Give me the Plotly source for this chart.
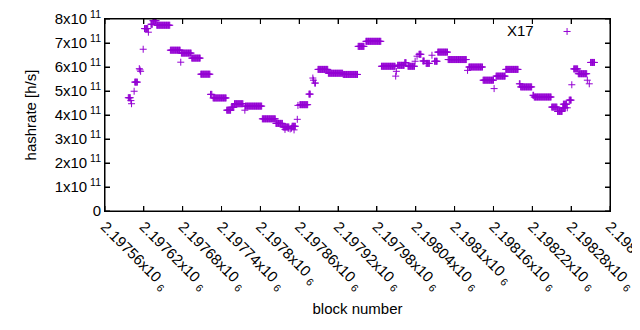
import plotly.graph_objects as go

# Runs of constant hashrate: first block, last block, hashrate [h/s]
run_start = [2197596, 2197600, 2197601, 2197605, 2197606, 2197613, 2197614, 2197615, 2197619, 2197621,
             2197627, 2197631, 2197634, 2197640, 2197661, 2197677, 2197678, 2197694, 2197708, 2197723,
             2197727, 2197748, 2197755, 2197760, 2197776, 2197777, 2197803, 2197824, 2197835, 2197838,
             2197843, 2197846, 2197848, 2197849, 2197852, 2197857, 2197858, 2197861, 2197875, 2197881,
             2197882, 2197884, 2197889, 2197905, 2197928, 2197951, 2197963, 2197987, 2198009, 2198010,
             2198012, 2198023, 2198028, 2198039, 2198042, 2198045, 2198051, 2198056, 2198065, 2198069,
             2198074, 2198090, 2198120, 2198122, 2198144, 2198161, 2198164, 2198179, 2198200, 2198202,
             2198221, 2198223, 2198250, 2198259, 2198267, 2198268, 2198274, 2198277, 2198281, 2198284,
             2198291, 2198305, 2198308, 2198310]
run_end = [2197599, 2197600, 2197601, 2197605, 2197610, 2197613, 2197614, 2197615, 2197619, 2197626,
           2197627, 2197633, 2197639, 2197660, 2197676, 2197677, 2197693, 2197707, 2197722, 2197725,
           2197747, 2197754, 2197759, 2197773, 2197776, 2197802, 2197823, 2197834, 2197844, 2197838,
           2197843, 2197846, 2197848, 2197854, 2197852, 2197857, 2197858, 2197873, 2197877, 2197881,
           2197882, 2197885, 2197904, 2197927, 2197950, 2197960, 2197986, 2198008, 2198009, 2198010,
           2198022, 2198025, 2198038, 2198039, 2198042, 2198048, 2198053, 2198061, 2198065, 2198073,
           2198089, 2198118, 2198120, 2198143, 2198160, 2198161, 2198178, 2198198, 2198201, 2198219,
           2198222, 2198249, 2198258, 2198266, 2198271, 2198273, 2198274, 2198280, 2198281, 2198290,
           2198304, 2198305, 2198308, 2198316]
run_hashrate = [4.72e11, 4.60e11, 4.47e11, 4.99e11, 5.37e11, 5.93e11, 5.88e11, 5.82e11, 6.74e11, 7.60e11,
                7.45e11, 7.78e11, 7.93e11, 7.74e11, 6.70e11, 6.20e11, 6.58e11, 6.37e11, 5.70e11, 4.86e11,
                4.71e11, 4.20e11, 4.32e11, 4.47e11, 4.20e11, 4.37e11, 3.84e11, 3.65e11, 3.50e11, 3.40e11,
                3.44e11, 3.42e11, 3.45e11, 3.53e11, 3.38e11, 3.82e11, 4.40e11, 4.43e11, 4.87e11, 5.54e11,
                5.45e11, 5.33e11, 5.90e11, 5.74e11, 5.69e11, 6.86e11, 7.07e11, 6.03e11, 5.62e11, 5.82e11,
                6.07e11, 6.18e11, 6.03e11, 6.24e11, 6.45e11, 6.53e11, 6.25e11, 6.15e11, 6.49e11, 6.24e11,
                6.62e11, 6.31e11, 5.86e11, 6.00e11, 5.45e11, 5.10e11, 5.62e11, 5.90e11, 5.30e11, 5.17e11,
                4.82e11, 4.75e11, 4.33e11, 4.15e11, 4.30e11, 4.45e11, 4.30e11, 4.62e11, 5.26e11, 5.92e11,
                5.72e11, 5.45e11, 5.30e11, 6.19e11]

x_range = [2197560, 2198340]
y_range = [0, 8e11]
x_tick_values = [2197560, 2197620, 2197680, 2197740, 2197800, 2197860, 2197920,
                 2197980, 2198040, 2198100, 2198160, 2198220, 2198280, 2198340]
x_tick_mantissas = ["2.19756", "2.19762", "2.19768", "2.19774", "2.1978", "2.19786", "2.19792",
                    "2.19798", "2.19804", "2.1981", "2.19816", "2.19822", "2.19828", "2.19834"]
y_tick_values = [0, 1e11, 2e11, 3e11, 4e11, 5e11, 6e11, 7e11, 8e11]
y_tick_mantissas = ["0", "1", "2", "3", "4", "5", "6", "7", "8"]
series_name = "X17"

blocks, hashrates = [], []
for s, e, v in zip(run_start, run_end, run_hashrate):
    for b in range(s, e + 1):
        blocks.append(b)
        hashrates.append(v)

color = "#9400D3"
FONT = "Liberation Sans"
FS = 15
AXC = "#000000"

x_tick_text = [m + "x10 <sub>6</sub>" for m in x_tick_mantissas]
y_tick_text = [m if m == "0" else m + "x10<sup> 11</sup>" for m in y_tick_mantissas]

fig = go.Figure()
fig.add_trace(go.Scatter(
    x=blocks, y=hashrates, mode="markers", name=series_name,
    marker=dict(symbol="cross-thin", size=5, color=color,
                line=dict(color=color, width=1)),
    showlegend=False,
))

# gnuplot-style border with inward ticks, drawn as a line trace along the axis ranges
plot_w_px, plot_h_px, tick_px = 505.0, 192.0, 5.0
dx = (x_range[1] - x_range[0]) * tick_px / plot_w_px
dy = (y_range[1] - y_range[0]) * tick_px / plot_h_px
fx = [x_range[0], x_range[1], x_range[1], x_range[0], x_range[0], None]
fy = [y_range[0], y_range[0], y_range[1], y_range[1], y_range[0], None]
for xv in x_tick_values:
    fx += [xv, xv, None, xv, xv, None]
    fy += [y_range[0], y_range[0] + dy, None, y_range[1], y_range[1] - dy, None]
for yv in y_tick_values:
    fx += [x_range[0], x_range[0] + dx, None, x_range[1], x_range[1] - dx, None]
    fy += [yv, yv, None, yv, yv, None]
fig.add_trace(go.Scatter(x=fx, y=fy, mode="lines", line=dict(color=AXC, width=1),
                         hoverinfo="skip", showlegend=False, cliponaxis=False))

axis_common = dict(showline=True, linecolor=AXC, linewidth=1, mirror="ticks",
                   ticks="inside", ticklen=5, tickcolor=AXC, tickwidth=1, showgrid=False,
                   zeroline=False, automargin=False, ticklabeloverflow="allow",
                   tickfont=dict(family=FONT, size=FS, color="black"))

# the page adds an 8 px body margin, so the margins below are shifted to compensate
fig.update_layout(
    width=640, height=330,
    margin=dict(l=97, r=38, t=11, b=127, autoexpand=False),
    paper_bgcolor="white", plot_bgcolor="white",
    font=dict(family=FONT, size=FS, color="black"),
    xaxis=dict(range=x_range, tickvals=x_tick_values, ticktext=x_tick_text,
               tickangle=45, title=dict(text="block number", standoff=10,
                                        font=dict(family=FONT, size=FS)),
               **axis_common),
    yaxis=dict(range=y_range, tickvals=y_tick_values, ticktext=y_tick_text,
               title=dict(text="hashrate [h/s]", standoff=14,
                          font=dict(family=FONT, size=FS)),
               **axis_common),
)

# gnuplot-style key: label followed by point sample
fig.add_annotation(xref="paper", yref="paper", x=0.853, y=0.94, text=series_name,
                   showarrow=False, xanchor="right", yanchor="middle",
                   font=dict(family=FONT, size=FS, color="black"))
kx, ky = 0.915, 0.935
fig.add_shape(type="line", xref="paper", yref="paper", x0=kx - 0.007, x1=kx + 0.007, y0=ky, y1=ky,
              line=dict(color=color, width=1))
fig.add_shape(type="line", xref="paper", yref="paper", x0=kx, x1=kx, y0=ky - 0.018, y1=ky + 0.018,
              line=dict(color=color, width=1))

fig.write_html("out.html")
